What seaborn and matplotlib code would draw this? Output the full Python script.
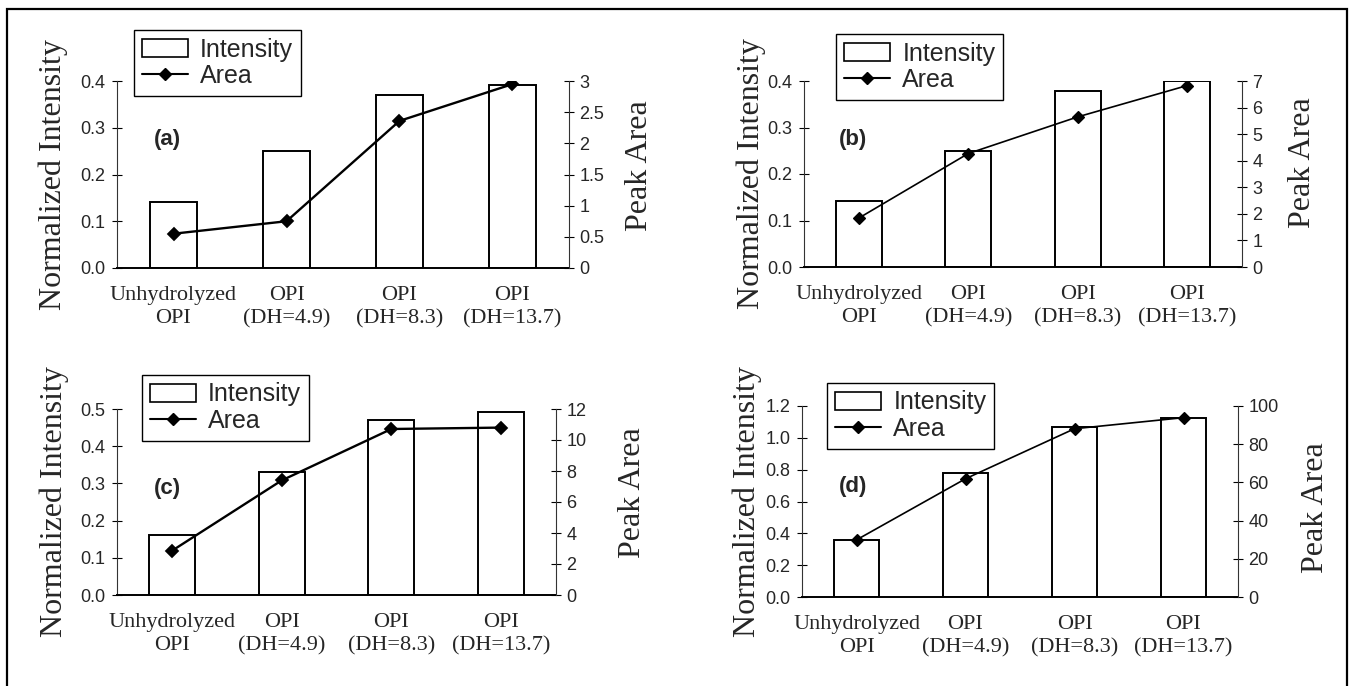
import seaborn as sns
import matplotlib.pyplot as plt
import numpy as np
from matplotlib.patches import Patch, Rectangle
from matplotlib.lines import Line2D

# category labels shared by all four panels
categories = ['Unhydrolyzed\nOPI', 'OPI\n(DH=4.9)', 'OPI\n(DH=8.3)', 'OPI\n(DH=13.7)']

# normalized intensity (bars, left axis) and peak area (line, right axis)
intensity_a = [0.142, 0.250, 0.370, 0.391]
area_a = [0.55, 0.75, 2.36, 2.95]
intensity_b = [0.143, 0.250, 0.379, 0.400]
area_b = [1.84, 4.27, 5.65, 6.83]
intensity_c = [0.161, 0.331, 0.470, 0.492]
area_c = [2.85, 7.39, 10.71, 10.80]
intensity_d = [0.355, 0.776, 1.068, 1.127]
area_d = [29.9, 61.9, 88.1, 93.9]

panel_names = ['(a)', '(b)', '(c)', '(d)']
left_ticks = [[0, 0.1, 0.2, 0.3, 0.4],
              [0, 0.1, 0.2, 0.3, 0.4],
              [0, 0.1, 0.2, 0.3, 0.4, 0.5],
              [0, 0.2, 0.4, 0.6, 0.8, 1.0, 1.2]]
right_ticks = [[0, 0.5, 1, 1.5, 2, 2.5, 3],
               [0, 1, 2, 3, 4, 5, 6, 7],
               [0, 2, 4, 6, 8, 10, 12],
               [0, 20, 40, 60, 80, 100]]

sns.set_style('white')
plt.rcParams['font.family'] = ['Liberation Sans', 'DejaVu Sans']

W, H = 1352, 686
fig = plt.figure(figsize=(W / 100, H / 100), dpi=100)

# layout in pixels: axes rect (left, top, right, bottom), legend top-left corner,
# panel tag position, label x positions (axes coords), right label y
layout = [
    dict(rect=(117, 81, 569, 268), leg=(134, 30), tag=(0.082, 0.685),
         ylx=-0.108, y2x=1.124, y2y=0.55, lw=1.7, ms=6.5),
    dict(rect=(804, 81, 1242, 267), leg=(836, 34), tag=(0.080, 0.683),
         ylx=-0.087, y2x=1.105, y2y=0.56, lw=1.2, ms=6.0),
    dict(rect=(117, 409, 556, 595), leg=(142, 375), tag=(0.084, 0.575),
         ylx=-0.109, y2x=1.141, y2y=0.548, lw=1.7, ms=6.5),
    dict(rect=(802, 406, 1238, 597), leg=(827, 383), tag=(0.085, 0.576),
         ylx=-0.092, y2x=1.144, y2y=0.466, lw=1.2, ms=6.0),
]

intensities = [intensity_a, intensity_b, intensity_c, intensity_d]
areas = [area_a, area_b, area_c, area_d]

serif = 'Liberation Serif'
sans = 'Liberation Sans'

for i in range(4):
    L = layout[i]
    x0, y0, x1, y1 = L['rect']
    ax = fig.add_axes([x0 / W, 1 - y1 / H, (x1 - x0) / W, (y1 - y0) / H])

    sns.barplot(x=categories, y=intensities[i], ax=ax, color='white',
                saturation=1, edgecolor='black', linewidth=1.4, width=0.42)

    ax2 = ax.twinx()
    sns.pointplot(x=categories, y=areas[i], ax=ax2, color='black',
                  markers='D', linestyles='-', errorbar=None,
                  markersize=L['ms'], linewidth=L['lw'])

    # x axis: labels centred, small ticks between categories
    ax.set_xlim(-0.5, 3.5)
    ax.set_xticks(range(4))
    ax.set_xticklabels(categories, fontsize=16, family=serif, linespacing=1.3)
    ax.set_xticks([0.5, 1.5, 2.5], minor=True)
    ax.tick_params(axis='x', which='major', length=0, pad=13)
    ax.tick_params(axis='x', which='minor', direction='inout', length=7,
                   width=0.8, color='black')

    # left axis
    ax.set_ylim(0, left_ticks[i][-1])
    ax.set_yticks(left_ticks[i])
    ax.set_yticklabels([f'{v:.1f}' for v in left_ticks[i]], fontsize=13,
                       family=sans)
    ax.tick_params(axis='y', direction='inout', length=7, width=0.8,
                   color='black', pad=5, left=True)
    ax.set_ylabel('Normalized Intensity', fontsize=23, family=serif)
    ax.yaxis.set_label_coords(L['ylx'], 0.5)
    ax.set_xlabel('')

    # right axis
    ax2.set_ylim(0, right_ticks[i][-1])
    ax2.set_yticks(right_ticks[i])
    ax2.set_yticklabels([f'{v:g}' for v in right_ticks[i]], fontsize=13,
                        family=sans)
    ax2.tick_params(axis='y', direction='inout', length=7, width=0.8,
                    color='black', pad=4, right=True)
    ax2.set_ylabel('Peak Area', fontsize=23, family=serif)
    ax2.yaxis.set_label_coords(L['y2x'], L['y2y'])

    for s in ['top', 'right']:
        ax.spines[s].set_visible(False)
    ax.spines['left'].set_linewidth(0.8)
    ax.spines['left'].set_color('#333333')
    ax.spines['bottom'].set_linewidth(1.4)
    ax.spines['bottom'].set_color('black')
    for s in ['top', 'left', 'bottom']:
        ax2.spines[s].set_visible(False)
    ax2.spines['right'].set_linewidth(0.8)
    ax2.spines['right'].set_color('#333333')
    ax.grid(False)
    ax2.grid(False)

    ax.text(L['tag'][0], L['tag'][1], panel_names[i], transform=ax.transAxes,
            fontsize=16, fontweight='bold', family=sans, ha='left', va='center')

    handles = [Patch(facecolor='white', edgecolor='black', linewidth=1.2,
                     label='Intensity'),
               Line2D([], [], color='black', marker='D', markersize=6,
                      linewidth=1.5, label='Area')]
    leg = ax2.legend(handles=handles, loc='upper left',
                     bbox_to_anchor=(L['leg'][0] / W, 1 - L['leg'][1] / H),
                     bbox_transform=fig.transFigure, borderaxespad=0,
                     fancybox=False, framealpha=1, edgecolor='black',
                     prop={'family': sans, 'size': 18},
                     handlelength=1.85, handleheight=0.75,
                     handletextpad=0.5, labelspacing=0.1, borderpad=0.3)
    leg.get_frame().set_linewidth(1.0)

# outer frame around the figure
fig.add_artist(Rectangle((7 / W, -0.01), (1347 - 7) / W, 1 - 9 / H + 0.01,
                         transform=fig.transFigure, fill=False,
                         edgecolor='black', linewidth=1.6))

fig.savefig('out.png', dpi=100, facecolor='white')
